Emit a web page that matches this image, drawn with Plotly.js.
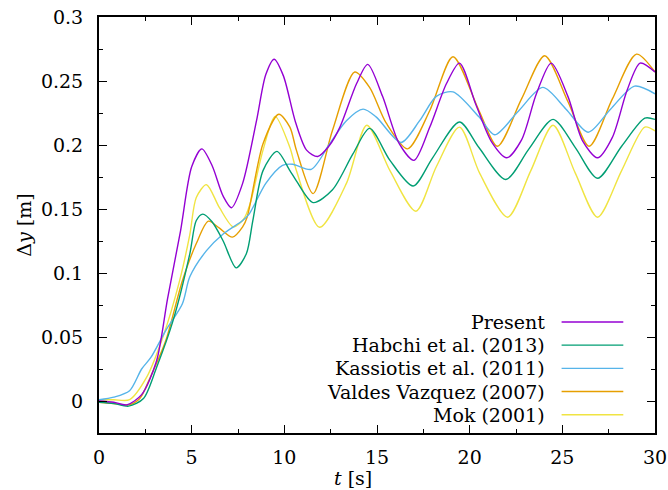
<!DOCTYPE html>
<html>
<head>
<meta charset="utf-8">
<script src="https://cdn.plot.ly/plotly-3.0.1.min.js"></script>
<style>html,body{margin:0;padding:0;background:#fff;}#chart{width:668px;height:490px;}</style>
</head>
<body>
<div id="chart"></div>
<script>
// Series names and colours
const seriesNames = ["Present", "Habchi et al. (2013)", "Kassiotis et al. (2011)", "Valdes Vazquez (2007)", "Mok (2001)"];
const seriesColors = ["#9400D3", "#009E73", "#56B4E9", "#E69F00", "#F0E442"];

// Present
const tPresent = [0, 0.8, 1.5, 2.3, 3.1, 3.7, 4.4, 5.0, 5.55, 6.1, 6.7, 7.15, 7.75, 8.5, 9.0, 9.45, 9.95, 10.6, 11.2, 11.8, 12.4, 13.0, 13.9, 14.5, 15.3, 16.2, 17.0, 17.85, 18.75, 19.45, 20.35, 21.2, 22.0, 22.8, 23.6, 24.4, 25.3, 26.1, 26.9, 27.7, 28.5, 29.2, 30];
const yPresent = [0, -0.001, -0.003, 0.005, 0.031, 0.08, 0.133, 0.183, 0.197, 0.184, 0.16, 0.151, 0.17, 0.219, 0.255, 0.267, 0.254, 0.218, 0.196, 0.191, 0.199, 0.214, 0.248, 0.263, 0.238, 0.201, 0.188, 0.214, 0.248, 0.264, 0.231, 0.202, 0.19, 0.204, 0.24, 0.264, 0.238, 0.203, 0.19, 0.206, 0.243, 0.264, 0.257];

// Habchi et al. (2013)
const tHabchi = [0, 0.8, 1.6, 2.4, 3.1, 4.0, 4.9, 5.25, 5.6, 6.1, 6.7, 7.4, 7.95, 8.3, 8.85, 9.6, 10.3, 10.65, 11.55, 12.6, 13.7, 14.6, 15.7, 16.95, 18.0, 19.45, 20.5, 21.95, 23.2, 24.5, 25.7, 26.9, 28.2, 29.45, 30];
const yHabchi = [-0.001, -0.002, -0.004, 0.002, 0.026, 0.063, 0.115, 0.141, 0.146, 0.14, 0.125, 0.104, 0.115, 0.141, 0.18, 0.195, 0.18, 0.172, 0.155, 0.165, 0.193, 0.213, 0.188, 0.168, 0.19, 0.218, 0.198, 0.173, 0.197, 0.22, 0.198, 0.174, 0.199, 0.221, 0.22];

// Kassiotis et al. (2011)
const tKassiotis = [0, 0.8, 1.65, 2.3, 2.8, 3.6, 4.5, 4.9, 5.8, 6.7, 7.75, 8.1, 9.0, 9.9, 10.45, 11.45, 12.45, 13.35, 14.25, 14.95, 16.3, 17.3, 18.2, 19.1, 20.5, 21.35, 22.6, 23.95, 25.2, 26.4, 27.6, 28.9, 30];
const yKassiotis = [0.001, 0.003, 0.008, 0.025, 0.034, 0.055, 0.076, 0.097, 0.1175, 0.1305, 0.141, 0.146, 0.17, 0.184, 0.185, 0.181, 0.201, 0.219, 0.228, 0.222, 0.202, 0.219, 0.238, 0.2415, 0.222, 0.208, 0.226, 0.245, 0.228, 0.21, 0.228, 0.246, 0.24];

// Valdes Vazquez (2007)
const tValdes = [0, 0.8, 1.6, 2.2, 2.75, 3.6, 4.5, 5.25, 5.9, 6.5, 7.2, 7.75, 8.0, 8.85, 9.7, 10.3, 10.65, 11.55, 12.6, 13.8, 14.6, 15.5, 16.65, 17.85, 19.1, 20.5, 21.5, 22.8, 24.05, 25.3, 26.45, 27.7, 29.0, 30];
const yValdes = [-0.001, -0.002, -0.003, 0.002, 0.018, 0.047, 0.094, 0.123, 0.1405, 0.135, 0.128, 0.136, 0.144, 0.201, 0.224, 0.214, 0.196, 0.162, 0.2115, 0.257, 0.245, 0.217, 0.197, 0.227, 0.269, 0.227, 0.199, 0.236, 0.2697, 0.234, 0.199, 0.236, 0.271, 0.257];

// Mok (2001)
const tMok = [0, 0.8, 1.65, 2.55, 3.45, 4.35, 4.9, 5.25, 5.8, 6.5, 7.25, 7.8, 8.15, 8.85, 9.5, 10.3, 10.65, 11.9, 13.35, 14.45, 15.7, 17.1, 18.2, 19.45, 20.55, 22.05, 23.3, 24.5, 25.7, 26.9, 28.2, 29.45, 30];
const yMok = [0.001, 0.001, 0.001, 0.018, 0.05, 0.094, 0.13, 0.159, 0.169, 0.151, 0.136, 0.142, 0.154, 0.196, 0.2224, 0.198, 0.18, 0.1357, 0.17, 0.2154, 0.18, 0.1483, 0.183, 0.214, 0.1776, 0.1436, 0.18, 0.2154, 0.178, 0.1436, 0.18, 0.214, 0.211];

const xs = [tPresent, tHabchi, tKassiotis, tValdes, tMok];
const ys = [yPresent, yHabchi, yKassiotis, yValdes, yMok];

const FONT = "DejaVu Serif";
const FS = 19;

const traces = seriesNames.map((n, i) => ({
  x: xs[i], y: ys[i], name: n, type: "scatter", mode: "lines",
  line: {color: seriesColors[i], width: 1.4, shape: "spline", smoothing: 0.8},
  showlegend: false
}));
const ordered = [traces[4], traces[3], traces[2], traces[1], traces[0]];

// custom legend (text on the left, sample line on the right)
const legX = 0.805, lineX0 = 0.832, lineX1 = 0.943;
const legY0 = 0.267, legDy = 0.0558;
const annotations = seriesNames.map((n, i) => ({
  xref: "paper", yref: "paper", x: legX, y: legY0 - i * legDy,
  xanchor: "right", yanchor: "middle", showarrow: false, text: n,
  font: {family: FONT, size: FS, color: "#000"}
}));
const shapes = seriesNames.map((n, i) => ({
  type: "line", xref: "paper", yref: "paper",
  x0: lineX0, x1: lineX1, y0: legY0 - i * legDy, y1: legY0 - i * legDy,
  line: {color: seriesColors[i], width: 1.4}
}));
annotations.push({
  xref: "paper", yref: "paper", x: 0.457, y: -0.107, xanchor: "center", yanchor: "middle",
  showarrow: false, text: "<i>t</i> [s]", font: {family: FONT, size: FS, color: "#000"}
});

const layout = {
  width: 668, height: 490,
  margin: {l: 99, r: 13, t: 17, b: 57},
  paper_bgcolor: "#fff", plot_bgcolor: "#fff",
  font: {family: FONT, size: FS, color: "#000"},
  xaxis: {
    range: [0, 30], tick0: 0, dtick: 5, ticks: "inside", ticklen: 8, tickwidth: 1, tickcolor: "#000",
    minor: {dtick: 2.5, ticks: "inside", ticklen: 4, tickcolor: "#000"},
    showline: true, linecolor: "#000", linewidth: 2, mirror: "allticks",
    showgrid: false, zeroline: false, ticklabelstandoff: 6,
    tickfont: {family: FONT, size: FS}
  },
  yaxis: {
    range: [-0.025, 0.3], tick0: 0, dtick: 0.05, ticks: "inside", ticklen: 8, tickwidth: 1, tickcolor: "#000",
    minor: {dtick: 0.025, ticks: "inside", ticklen: 4, tickcolor: "#000"},
    showline: true, linecolor: "#000", linewidth: 2, mirror: "allticks",
    showgrid: false, zeroline: false, ticklabelstandoff: 10,
    tickfont: {family: FONT, size: FS},
    title: {text: "Δ<i>y</i> [m]", font: {family: FONT, size: FS}, standoff: 4}
  },
  annotations: annotations,
  shapes: shapes
};

Plotly.newPlot("chart", ordered, layout, {displayModeBar: false, staticPlot: true});
</script>
</body>
</html>
